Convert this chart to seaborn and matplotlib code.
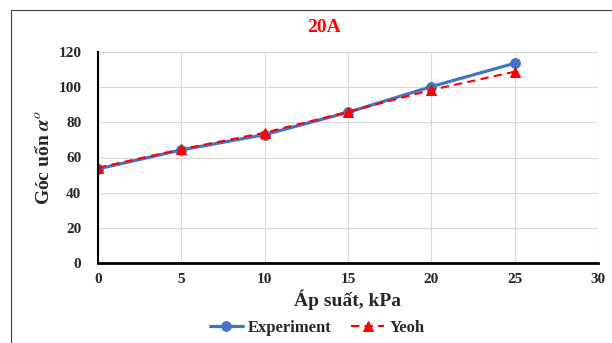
import pandas as pd
import numpy as np
import matplotlib
matplotlib.use("Agg")
import matplotlib.pyplot as plt
import seaborn as sns
from matplotlib.patches import Rectangle

ap_suat = [0, 5, 10, 15, 20, 25]
experiment = [53.5, 64.3, 73.0, 85.7, 100.3, 113.6]
yeoh = [54.2, 64.7, 74.1, 86.0, 98.4, 108.8]

df = pd.DataFrame({
    "ap_suat": ap_suat * 2,
    "goc": experiment + yeoh,
    "series": ["Experiment"] * len(ap_suat) + ["Yeoh"] * len(ap_suat),
})

sns.set_style("whitegrid")
plt.rcParams["font.family"] = ["Liberation Serif", "DejaVu Serif"]
plt.rcParams["mathtext.fontset"] = "stix"

fig = plt.figure(figsize=(6.12, 3.43), dpi=100)
ax = fig.add_axes([98 / 612, 1 - 263 / 343, 500 / 612, 211 / 343])

mau = {"Experiment": "#4472C4", "Yeoh": "#FF0000"}
sns.lineplot(data=df[df.series == "Experiment"], x="ap_suat", y="goc", ax=ax,
             color=mau["Experiment"], lw=2.3, marker="o", markersize=7,
             markeredgecolor=mau["Experiment"], label="Experiment")
sns.lineplot(data=df[df.series == "Yeoh"], x="ap_suat", y="goc", ax=ax,
             color=mau["Yeoh"], lw=1.5, linestyle=(0, (4, 2.5)), marker="^",
             markersize=7, markeredgecolor=mau["Yeoh"], label="Yeoh")

ax.set_xlim(0, 30)
ax.set_ylim(0, 120)
ax.set_xticks(range(0, 31, 5))
ax.set_yticks(range(0, 121, 20))
ax.grid(True, color="#D9D9D9", lw=0.8)
for s in ["top", "right"]:
    ax.spines[s].set_visible(False)
ax.spines["left"].set_color("black")
ax.spines["left"].set_linewidth(1.5)
ax.spines["bottom"].set_color("black")
ax.spines["bottom"].set_linewidth(2)
ax.tick_params(axis="x", length=0, labelsize=11, pad=7)
ax.tick_params(axis="y", length=0, labelsize=11, pad=12)
for t in ax.get_xticklabels() + ax.get_yticklabels():
    t.set_fontweight("bold")

ax.set_xlabel("Áp suất, kPa", fontsize=14, fontweight="bold", labelpad=3)
ax.set_ylabel(r"Góc uốn $\mathbfit{\alpha}^{o}$", fontsize=14, fontweight="bold",
              labelpad=4)
fig.text(0.53, 1 - 28 / 343, "20A", color="red", fontsize=14, fontweight="bold",
         ha="center", va="center")

ax.legend(loc="center", ncol=2, frameon=False,
          prop={"weight": "bold", "size": 12}, handlelength=2.0,
          columnspacing=1.15, handletextpad=0.3)
leg = ax.get_legend()
leg.set_bbox_to_anchor((317 / 612, 1 - 328 / 343), transform=fig.transFigure)

fig.patches.append(Rectangle((11 / 612, -0.1), 1.2, 1 - 10 / 343 + 0.1,
                             transform=fig.transFigure, fill=False,
                             edgecolor="#404040", lw=0.8))

fig.savefig("out.png", dpi=100)
